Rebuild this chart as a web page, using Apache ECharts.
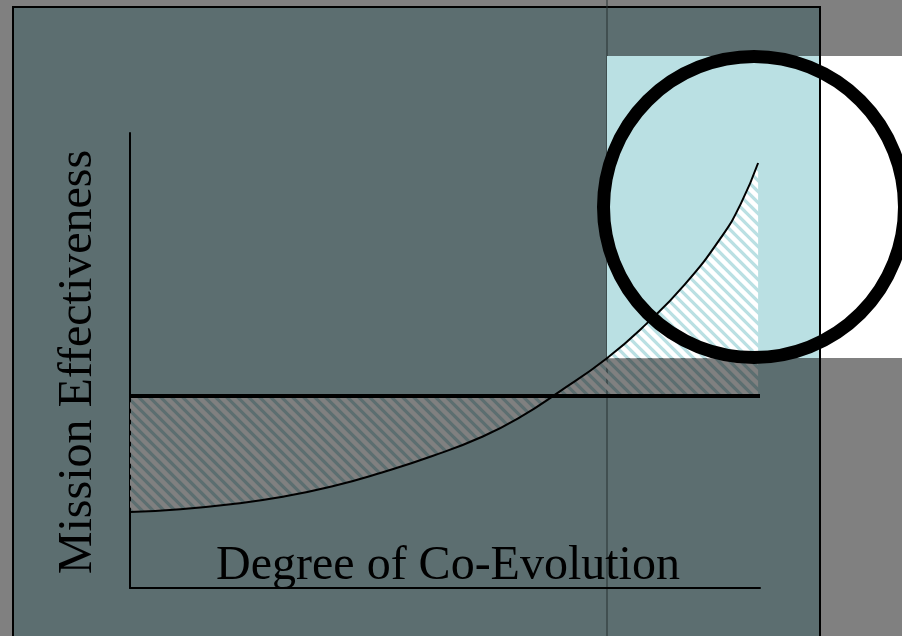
<!DOCTYPE html>
<html>
<head>
<meta charset="utf-8">
<script src="https://cdn.jsdelivr.net/npm/echarts@6/dist/echarts.min.js"></script>
<style>
html, body { margin: 0; padding: 0; background: #808080; }
#main { width: 902px; height: 636px; }
</style>
</head>
<body>
<div id="main"></div>
<script>
// curve, both axes 0..100
var coEvolution   = [0, 8, 16, 24, 32, 40, 48, 56, 62, 68, 75.7, 82, 88, 94, 97, 99.7];
var effectiveness = [16.7, 17.3, 18.4, 20.0, 22.3, 25.4, 29.0, 33.3, 37.6, 43.0, 50.5, 58.1, 66.6, 77.4, 84.6, 93.4];
var baselineX     = [0, 100];
var baselineLevel = 42.2;
// part of the gap that sits inside the light box
var highlightStart = 10;
var highlightFloor = 50.5;

var xTitle = 'Degree of Co-Evolution';
var yTitle = 'Mission Effectiveness';

function hatch(color) {
    var P = 11;
    var c = document.createElement('canvas');
    c.width = P; c.height = P;
    var g = c.getContext('2d');
    g.strokeStyle = color;
    g.lineWidth = 4.5;
    for (var k = -1; k <= 1; k++) {
        g.beginPath();
        g.moveTo(k * P - 2, -2);
        g.lineTo(k * P + P + 2, P + 2);
        g.stroke();
    }
    return { image: c, repeat: 'repeat' };
}

function pairs(xs, ys, from) {
    var out = [];
    for (var i = from || 0; i < xs.length; i++) {
        out.push([xs[i], ys[i]]);
    }
    return out;
}

var curveData = pairs(coEvolution, effectiveness);
var lineData = baselineX.map(function (x) { return [x, baselineLevel]; });

var chartObj = echarts.init(document.getElementById('main'));
var font = '48px "Liberation Serif", "Times New Roman", serif';

chartObj.setOption({
    backgroundColor: '#808080',
    animation: false,
    grid: { left: 130, top: 133, width: 630, height: 455 },
    xAxis: {
        type: 'value', min: 0, max: 100,
        axisLine: { show: true, lineStyle: { color: '#000', width: 2 } },
        axisTick: { show: false }, axisLabel: { show: false }, splitLine: { show: false }
    },
    yAxis: {
        type: 'value', min: 0, max: 100,
        axisLine: { show: true, lineStyle: { color: '#000', width: 2 } },
        axisTick: { show: false }, axisLabel: { show: false }, splitLine: { show: false }
    },
    graphic: [
        // panel
        { type: 'rect', z: -10, shape: { x: 13, y: 7, width: 807, height: 640 },
          style: { fill: '#5c6e70', stroke: '#000', lineWidth: 2 } },
        { type: 'line', z: -5, shape: { x1: 607, y1: 0, x2: 607, y2: 636 },
          style: { stroke: '#263031', lineWidth: 1 } },
        // light box
        { type: 'rect', z: 3, shape: { x: 607, y: 56, width: 213, height: 302 },
          style: { fill: '#bae0e3' } },
        { type: 'rect', z: 3, shape: { x: 820, y: 56, width: 82, height: 302 },
          style: { fill: '#ffffff' } },
        { type: 'line', z: 4, shape: { x1: 820, y1: 7, x2: 820, y2: 636 },
          style: { stroke: '#000', lineWidth: 2 } },
        { type: 'circle', z: 10, shape: { cx: 754, cy: 207, r: 150.5 },
          style: { fill: 'none', stroke: '#000', lineWidth: 13 } },
        { type: 'text', z: 10, x: 448, y: 566,
          style: { text: xTitle, font: font, fill: '#000', align: 'center', verticalAlign: 'middle' } },
        { type: 'text', z: 10, x: 78, y: 362, rotation: Math.PI / 2,
          style: { text: yTitle, font: font, fill: '#000', align: 'center', verticalAlign: 'middle' } }
    ],
    series: [
        {
            type: 'line', z: 2, data: curveData, smooth: true, symbol: 'none',
            lineStyle: { opacity: 0 },
            areaStyle: { origin: baselineLevel, color: hatch('#808080'), opacity: 1 }
        },
        {
            type: 'line', z: 4, data: pairs(coEvolution, effectiveness, highlightStart), smooth: true, symbol: 'none',
            lineStyle: { opacity: 0 },
            areaStyle: { origin: highlightFloor, color: hatch('#ffffff'), opacity: 1 }
        },
        {
            type: 'line', z: 5, data: lineData, symbol: 'none',
            lineStyle: { color: '#000', width: 4 }
        },
        {
            type: 'line', z: 6, data: curveData, smooth: true, symbol: 'none',
            lineStyle: { color: '#000', width: 2 }
        }
    ]
});
</script>
</body>
</html>
